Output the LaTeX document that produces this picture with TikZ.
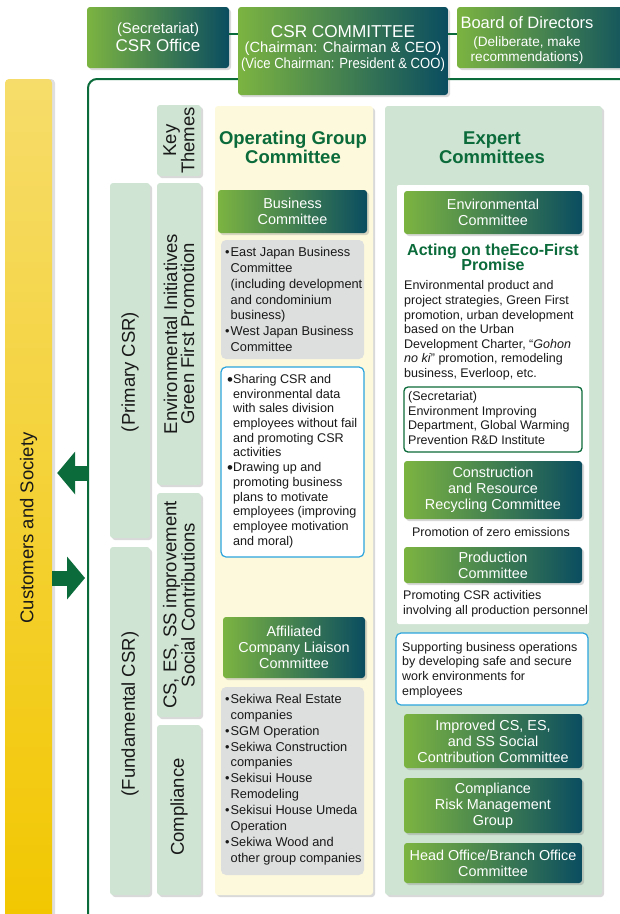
\documentclass[tikz,border=0pt]{standalone}
\usepackage{graphicx}
\usepackage{fontspec}
\setmainfont{Liberation Sans}
\usetikzlibrary{arrows.meta,shadows}

\definecolor{gLight}{HTML}{7CB441}
\definecolor{gDark}{HTML}{0A4D60}
\definecolor{csrGreen}{HTML}{0B6B3A}
\definecolor{themeGreen}{HTML}{CFE4D3}
\definecolor{opYellow}{HTML}{FDF9DC}
\definecolor{listGray}{HTML}{DDDEDE}
\definecolor{noteBlue}{HTML}{2BA3DC}
\definecolor{barTop}{HTML}{F6DC6A}
\definecolor{barMid}{HTML}{F3CC1C}
\definecolor{barBottom}{HTML}{F2C700}

\newcommand{\gbul}{\makebox[5.5pt][l]{•}}
\newcommand{\gind}{\hspace*{5.5pt}}
\newcommand{\wbul}{\makebox[6pt][l]{\raisebox{-1.6pt}{\fontsize{17}{17}\selectfont •}}}
\newcommand{\wind}{\hspace*{6pt}}
\newcommand{\subf}{\fontsize{14.7}{15.5}\selectfont}

\begin{document}
\begin{tikzpicture}[x=1pt,y=-1pt]

        % Styles
        \tikzstyle{shadowed}=[drop shadow={shadow xshift=2pt,shadow yshift=-2pt,opacity=.3}]
        \tikzstyle{committee}=[shadowed,rounded corners=3pt,left color=gLight,right color=gDark,text=white,align=center,inner sep=0pt,font=\fontsize{14.4}{16}\selectfont]
        \tikzstyle{theme box}=[shadowed,rounded corners=3pt,fill=themeGreen,inner sep=0pt]
        \tikzstyle{theme text}=[rotate=90,align=center,inner sep=0pt,text=black!90,font=\fontsize{18.5}{17}\selectfont]
        \tikzstyle{column}=[shadowed,rounded corners=3pt,inner sep=0pt]
        \tikzstyle{list box}=[rounded corners=5pt,fill=listGray,inner sep=0pt]
        \tikzstyle{note box}=[rounded corners=5pt,draw=noteBlue,line width=1.2pt,fill=white,inner sep=0pt]
        \tikzstyle{sec box}=[rounded corners=4pt,draw=csrGreen,line width=1.3pt,fill=white,inner sep=0pt]
        \tikzstyle{body}=[align=left,inner sep=0pt,text=black!90,font=\fontsize{12.8}{15.9}\selectfont]
        \tikzstyle{small body}=[body,font=\fontsize{12.5}{14.6}\selectfont]
        \tikzstyle{heading}=[align=center,inner sep=0pt,text=csrGreen,font=\bfseries\fontsize{18.5}{19}\selectfont]
        \tikzstyle{top text}=[align=center,inner sep=0pt,text=white]
        \tikzstyle{link}=[csrGreen,line width=2pt]
        \tikzstyle{big arrow}=[csrGreen,line width=15pt,-{Triangle[width=42pt,length=18pt]}]

        \useasboundingbox (0,0) rectangle (620,914);
        \clip (0,0) rectangle (620,914);

        %frame round the committees
        \draw[csrGreen,line width=2pt,rounded corners=9pt] (88,940) |- (650,79);

        %customers and society
        \node[rounded corners=4pt,top color=barTop,middle color=barMid,bottom color=barBottom,
              drop shadow={shadow xshift=3pt,shadow yshift=0pt,opacity=.25},
              minimum width=47pt,minimum height=850pt,inner sep=0pt] (cust) at (28.5,504) {};
        \node[theme text] (custlbl) at (28.5,528) {Customers and Society};
        \coordinate (outL) at (88,473);
        \coordinate (inR) at (88,578);
        \draw[big arrow,shorten >=5pt] (outL) -- (outL -| cust.east);
        \draw[big arrow,shorten >=3pt] (inR -| cust.east) -- (inR);

        %top row
        \node[committee,minimum width=142pt,minimum height=61pt] (office) at (158,37.5) {};
        \node[top text,font=\fontsize{14.9}{18}\selectfont] (officelbl) at (158,37.5)
            {\fontsize{14.9}{18}\selectfont (Secretariat)\\
             \fontsize{17}{18}\selectfont CSR Office};
        \node[committee,minimum width=210pt,minimum height=88pt] (csrc) at (343,51) {};
        \node[top text,font=\fontsize{14.7}{15.6}\selectfont] (csrclbl) at (343,48.5)
            {\fontsize{17.2}{17}\selectfont CSR COMMITTEE\\
             \subf (Chairman: Chairman \& CEO)\\
             \subf \scalebox{0.89}[1]{(Vice Chairman: President \& COO)}};
        \node[committee,minimum width=183pt,minimum height=61pt] (board) at (548.5,37.5) {};
        \node[top text,font=\fontsize{13.6}{15}\selectfont] (boardlbl) at (527,40)
            {\fontsize{16.5}{17}\selectfont Board of Directors\\[3pt]
             \fontsize{13.6}{15}\selectfont (Deliberate, make\\
             \fontsize{13.6}{15}\selectfont recommendations)};
        \draw[link] ([yshift=3.5pt]office.east) -- ([yshift=3.5pt]office.east -| csrc.west);
        \draw[link] ([yshift=3.5pt]board.west) -- ([yshift=3.5pt]board.west -| csrc.east);

        %key themes
        \node[theme box,minimum width=40pt,minimum height=355pt] (prim) at (130,360.5) {};
        \node[theme text] (primlbl) at (130,372) {(Primary CSR)};
        \node[theme box,minimum width=40pt,minimum height=348pt] (fund) at (130,721) {};
        \node[theme text] (fundlbl) at (130,714) {(Fundamental CSR)};
        \node[theme box,minimum width=44pt,minimum height=71pt] (key) at (179,140.5) {};
        \node[theme text] (keylbl) at (key.center) {Key\\Themes};
        \node[theme box,minimum width=44pt,minimum height=302pt] (env) at (179,334) {};
        \node[theme text] (envlbl) at (env.center) {Environmental Initiatives\\Green First Promotion};
        \node[theme box,minimum width=44pt,minimum height=224pt] (cses) at (179,605) {};
        \node[theme text] (cseslbl) at (cses.center) {CS, ES, SS improvement\\Social Contributions};
        \node[theme box,minimum width=44pt,minimum height=170pt] (comp) at (179,810) {};
        \node[theme text] (complbl) at (179,807) {Compliance};

        %operating group committee
        \node[column,fill=opYellow,minimum width=158pt,minimum height=789pt] (opcol) at (294,500.5) {};
        \node[heading] (optitle) at (293,147.5) {Operating Group\\Committee};
        \node[committee,minimum width=149pt,minimum height=43pt] (busc) at (292.5,211.5) {Business\\Committee};
        \node[list box,minimum width=143pt,minimum height=119pt] (bizlist) at (292.5,299.5) {};
        \node[body,anchor=west] (bizlisttxt) at (225,299.5)
            {\gbul East Japan Business\\
             \gind Committee\\
             \gind (including development\\
             \gind and condominium\\
             \gind business)\\
             \gbul West Japan Business\\
             \gind Committee};
        \node[note box,minimum width=143pt,minimum height=190pt] (opnote) at (292.5,462) {};
        \node[body,font=\fontsize{12.6}{14.7}\selectfont,anchor=west] (opnotetxt) at (227,461)
            {\wbul Sharing CSR and\\
             \wind environmental data\\
             \wind with sales division\\
             \wind employees without fail\\
             \wind and promoting CSR\\
             \wind activities\\
             \wbul Drawing up and\\
             \wind promoting business\\
             \wind plans to motivate\\
             \wind employees (improving\\
             \wind employee motivation\\
             \wind and moral)};
        \node[committee,minimum width=142pt,minimum height=61pt] (affc) at (294,647.5) {Affiliated\\Company Liaison\\Committee};
        \node[list box,minimum width=143pt,minimum height=188pt] (afflist) at (292.5,781) {};
        \node[body,anchor=west] (afflisttxt) at (225,779.5)
            {\gbul Sekiwa Real Estate\\
             \gind companies\\
             \gbul SGM Operation\\
             \gbul Sekiwa Construction\\
             \gind companies\\
             \gbul Sekisui House\\
             \gind Remodeling\\
             \gbul Sekisui House Umeda\\
             \gind Operation\\
             \gbul Sekiwa Wood and\\
             \gind other group companies};

        %expert committees
        \node[column,fill=themeGreen,minimum width=217pt,minimum height=789pt] (excol) at (493.5,500.5) {};
        \node[heading] (extitle) at (492,147.5) {Expert\\Committees};
        \node[rounded corners=2pt,fill=white,minimum width=192pt,minimum height=439pt,inner sep=0pt] (envpanel) at (493,404.5) {};
        \node[committee,minimum width=178pt,minimum height=43pt] (envc) at (493,212.5) {Environmental\\Committee};
        \node[heading,font=\bfseries\fontsize{16}{15}\selectfont] (eco) at (493,257.5) {Acting on theEco-First\\Promise};
        \node[small body,anchor=west] (envtxt) at (404,330.5)
            {Environmental product and\\
             project strategies, Green First\\
             promotion, urban development\\
             based on the Urban\\
             Development Charter, “\textit{Gohon}\\
             \textit{no ki}” promotion, remodeling\\
             business, Everloop, etc.};
        \node[sec box,minimum width=178pt,minimum height=65pt] (secbox) at (493,419.5) {};
        \node[small body,anchor=west] (sectxt) at (408,418)
            {(Secretariat)\\
             Environment Improving\\
             Department, Global Warming\\
             Prevention R\&D Institute};
        \node[committee,minimum width=178pt,minimum height=58pt] (recyc) at (493,490) {Construction\\and Resource\\Recycling Committee};
        \node[small body] (zero) at (491,532) {Promotion of zero emissions};
        \node[committee,minimum width=178pt,minimum height=36pt] (prodc) at (493,565) {Production\\Committee};
        \node[small body,anchor=west] (prodtxt) at (403,603.5)
            {Promoting CSR activities\\
             involving all production personnel};
        \node[note box,minimum width=192pt,minimum height=72pt] (exnote) at (492,669) {};
        \node[small body,anchor=west] (exnotetxt) at (402,670)
            {Supporting business operations\\
             by developing safe and secure\\
             work environments for\\
             employees};
        \node[committee,minimum width=178pt,minimum height=54pt] (csesc) at (493,741) {Improved CS, ES,\\and SS Social\\Contribution Committee};
        \node[committee,minimum width=178pt,minimum height=55pt] (riskc) at (493,805.5) {Compliance\\Risk Management\\Group};
        \node[committee,minimum width=178pt,minimum height=40pt] (headc) at (493,863) {Head Office/Branch Office\\Committee};

\end{tikzpicture}
\end{document}
